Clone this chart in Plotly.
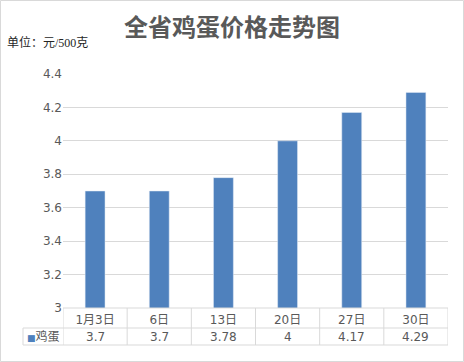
import plotly.graph_objects as go

categories = ["1月3日", "6日", "13日", "20日", "27日", "30日"]
prices = [3.7, 3.7, 3.78, 4, 4.17, 4.29]
series_name = "鸡蛋"
value_labels = ["3.7", "3.7", "3.78", "4", "4.17", "4.29"]
title_text = "全省鸡蛋价格走势图"
unit_text = "单位：元/500克"

W, H = 464, 362
ML, MR, MT, MB = 63, 16, 74, 54
PW = W - ML - MR
PH = H - MT - MB
GRID = "#d9d9d9"
TXT = "#595959"
BAR = "#4f81bd"
FONT = "DejaVu Sans, Noto Sans CJK SC, sans-serif"

def px_x(px):
    return (px - ML) / PW

def px_y(py):
    return (H - MB - py) / PH

row1_bottom = px_y(328)
row2_bottom = px_y(345)
label_left = px_x(23)

fig = go.Figure()
fig.add_trace(go.Bar(x=categories, y=prices, marker_color=BAR, width=0.31,
                     name=series_name, showlegend=False, hoverinfo="x+y"))

shapes = []
shapes.append(dict(type="line", xref="paper", yref="paper", x0=0, x1=1, y0=0, y1=0,
                   line=dict(color=GRID, width=1)))
for yb in (row1_bottom, row2_bottom):
    shapes.append(dict(type="line", xref="paper", yref="paper", x0=label_left, x1=1,
                       y0=yb, y1=yb, line=dict(color=GRID, width=1)))
n = len(categories)
for i in range(n + 1):
    shapes.append(dict(type="line", xref="x", yref="paper", x0=i - 0.5, x1=i - 0.5,
                       y0=0, y1=row2_bottom, line=dict(color=GRID, width=1)))
shapes.append(dict(type="line", xref="paper", yref="paper", x0=label_left, x1=label_left,
                   y0=row1_bottom, y1=row2_bottom, line=dict(color=GRID, width=1)))
shapes.append(dict(type="rect", xref="paper", yref="paper",
                   x0=px_x(0.5), x1=px_x(W - 0.5), y0=px_y(H - 0.5), y1=px_y(0.5),
                   line=dict(color=GRID, width=1), fillcolor="rgba(0,0,0,0)"))

annotations = []
for c, v in zip(categories, value_labels):
    annotations.append(dict(x=c, xref="x", yref="paper", y=(row1_bottom + row2_bottom) / 2,
                            text=v, showarrow=False, yanchor="middle",
                            font=dict(family=FONT, size=12, color=TXT)))
annotations.append(dict(xref="paper", yref="paper", x=(label_left + 0) / 2,
                        y=(row1_bottom + row2_bottom) / 2,
                        text="<span style='color:%s;font-size:9px'>■</span>%s" % (BAR, series_name),
                        showarrow=False, xanchor="center", yanchor="middle",
                        font=dict(family=FONT, size=12, color=TXT)))
annotations.append(dict(xref="paper", yref="paper", x=px_x(232), y=px_y(25),
                        text="<b>%s</b>" % title_text, showarrow=False,
                        xanchor="center", yanchor="middle",
                        font=dict(family="Noto Sans CJK SC, sans-serif", size=24, color=TXT)))
annotations.append(dict(xref="paper", yref="paper", x=px_x(5), y=px_y(42),
                        text=unit_text, showarrow=False,
                        xanchor="left", yanchor="middle",
                        font=dict(family="Liberation Serif, Noto Sans CJK SC, serif", size=12, color="#262626")))

fig.update_layout(
    width=W, height=H,
    margin=dict(l=ML, r=MR, t=MT, b=MB),
    paper_bgcolor="white", plot_bgcolor="white",
    shapes=shapes, annotations=annotations,
    xaxis=dict(type="category", showgrid=False, showline=False, zeroline=False,
               ticks="", tickfont=dict(family=FONT, size=12, color=TXT),
               ticklabelstandoff=3, range=[-0.5, n - 0.5]),
    yaxis=dict(range=[3, 4.4], dtick=0.2, showgrid=True, gridcolor=GRID, gridwidth=1,
               zeroline=False, showline=False, ticks="",
               tickfont=dict(family=FONT, size=12, color=TXT), tickformat="~g"),
    bargap=0.69,
)

fig.write_html("out.html", config={"displayModeBar": False},
               post_script="document.body.style.margin='0';document.body.style.overflow='hidden';")
